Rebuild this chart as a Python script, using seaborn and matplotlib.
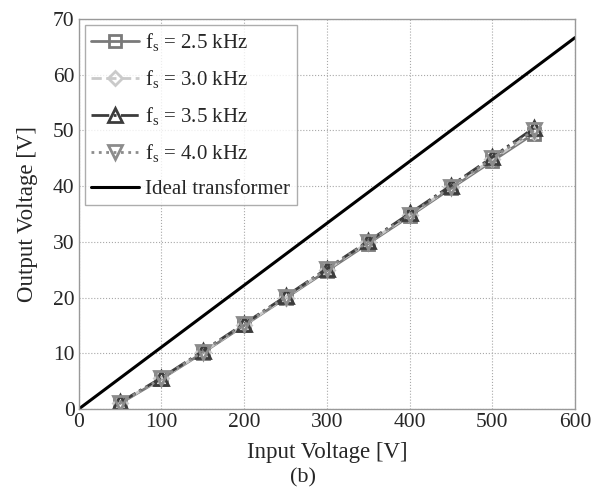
import numpy as np
import pandas as pd
import seaborn as sns
import matplotlib
matplotlib.use("Agg")
import matplotlib.pyplot as plt

# Measured output voltage vs. input voltage at four switching frequencies
vin = [50, 100, 150, 200, 250, 300, 350, 400, 450, 500, 550]
vout_25 = [1.0, 5.4, 10.1, 15.0, 19.9, 24.8, 29.7, 34.6, 39.6, 44.5, 49.4]
vout_30 = [1.1, 5.5, 10.2, 15.1, 20.0, 25.0, 29.9, 34.8, 39.8, 44.8, 49.7]
vout_35 = [1.2, 5.6, 10.4, 15.3, 20.2, 25.2, 30.1, 35.1, 40.1, 45.2, 50.4]
vout_40 = [1.1, 5.5, 10.3, 15.2, 20.1, 25.1, 30.0, 34.9, 39.9, 45.0, 50.0]
series_labels = [r"f$_\mathregular{s}$ = 2.5 kHz", r"f$_\mathregular{s}$ = 3.0 kHz",
                 r"f$_\mathregular{s}$ = 3.5 kHz", r"f$_\mathregular{s}$ = 4.0 kHz"]
# Ideal transformer: turns ratio 9:1
ideal_vin = [0, 600]
ideal_vout = [0, 600 / 9]

sns.set_theme(style="white")
plt.rcParams["font.family"] = ["Liberation Serif", "DejaVu Serif"]
plt.rcParams["mathtext.fontset"] = "custom"
plt.rcParams["mathtext.rm"] = "Liberation Serif"
plt.rcParams["mathtext.it"] = "Liberation Serif:italic"

fig = plt.figure(figsize=(6.06, 4.96), dpi=100)
ax = fig.add_axes([0.130, 0.1754, 0.819, 0.7863])

styles = [
    dict(color="#7a7a7a", linestyle="-", marker="s", markersize=8.5),
    dict(color="#cacaca", linestyle="--", marker="D", markersize=7.5),
    dict(color="#3c3c3c", linestyle="-.", marker="^", markersize=10),
    dict(color="#8c8c8c", linestyle=":", marker="v", markersize=10),
]
for vals, lab, st in zip([vout_25, vout_30, vout_35, vout_40], series_labels, styles):
    sns.lineplot(x=vin, y=vals, ax=ax, label=lab, linewidth=2,
                 markerfacecolor="none", markeredgecolor=st["color"],
                 markeredgewidth=2, **st)

sns.lineplot(x=ideal_vin, y=ideal_vout, ax=ax, color="black", linewidth=2.2,
             label="Ideal transformer")

ax.set_xlim(0, 600)
ax.set_ylim(0, 70)
ax.set_xticks(range(0, 601, 100))
ax.set_yticks(range(0, 71, 10))
ax.grid(True, color="#a8a8a8", linestyle=":", linewidth=0.8)
ax.tick_params(direction="in", labelsize=15.5, length=4, color="#888888", pad=3)
for sp in ax.spines.values():
    sp.set_color("#999999")
    sp.set_linewidth(1.0)

ax.set_xlabel("Input Voltage [V]", fontsize=16.5, labelpad=7)
ax.set_ylabel("Output Voltage [V]", fontsize=16.5, labelpad=11)

leg = ax.legend(loc="upper left", fontsize=15, frameon=True, fancybox=False,
                edgecolor="#999999", borderaxespad=0.3, handlelength=2.3,
                handletextpad=0.3, labelspacing=0.72, borderpad=0.3)
leg.get_frame().set_linewidth(1.0)

fig.text(0.5, 0.036, "(b)", ha="center", va="center", fontsize=16)

fig.savefig("out.png", dpi=100)
